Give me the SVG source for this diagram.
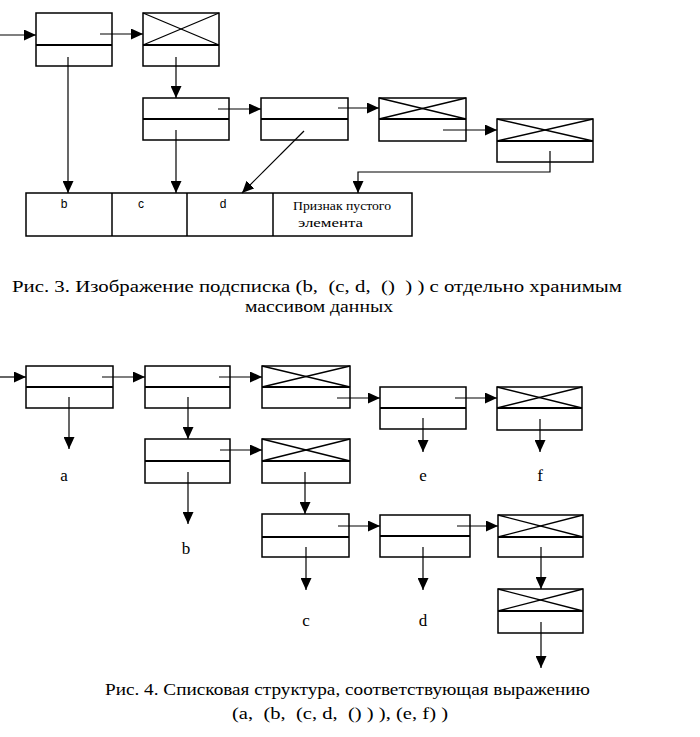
<svg xmlns="http://www.w3.org/2000/svg" width="700" height="737" viewBox="0 0 700 737">
<style>
.box{fill:none;stroke:#000;stroke-width:1.5}
.div{stroke:#000;stroke-width:2}
.x{stroke:#000;stroke-width:1.3}
.ca{fill:none;stroke:#000;stroke-width:1.2;marker-end:url(#ah)}
.cap{font-family:"Liberation Serif",serif;font-size:17px;fill:#000}
.lbl{font-family:"Liberation Serif",serif;font-size:17px;fill:#000;text-anchor:middle}
.sm{font-family:"Liberation Sans",sans-serif;font-size:12px;fill:#000;text-anchor:middle}
.smr{font-family:"Liberation Serif",serif;font-size:12px;fill:#000}
</style>
<defs>
<marker id="ah" markerUnits="userSpaceOnUse" markerWidth="13" markerHeight="11" refX="12" refY="5.5" orient="auto">
<path d="M0,0 L12,5.5 L0,11 Z" fill="#000"/>
</marker>
</defs>

<!-- Figure 3 nodes -->
<g id="n3a"><rect class="box" x="36" y="13" width="76" height="53"/><line class="div" x1="36" y1="45" x2="112" y2="45"/></g>
<g id="n3x1"><rect class="box" x="143" y="13" width="76" height="53"/><line class="div" x1="143" y1="45" x2="219" y2="45"/><line class="x" x1="143" y1="13" x2="219" y2="45"/><line class="x" x1="143" y1="45" x2="219" y2="13"/></g>
<g id="n3b1"><rect class="box" x="143" y="98" width="86" height="42"/><line class="div" x1="143" y1="119" x2="229" y2="119"/></g>
<g id="n3b2"><rect class="box" x="261" y="98" width="87" height="42"/><line class="div" x1="261" y1="119" x2="348" y2="119"/></g>
<g id="n3x2"><rect class="box" x="379" y="98" width="87" height="43"/><line class="div" x1="379" y1="119" x2="466" y2="119"/><line class="x" x1="379" y1="98" x2="466" y2="119"/><line class="x" x1="379" y1="119" x2="466" y2="98"/></g>
<g id="n3x3"><rect class="box" x="497" y="119" width="96" height="43"/><line class="div" x1="497" y1="141" x2="593" y2="141"/><line class="x" x1="497" y1="119" x2="593" y2="141"/><line class="x" x1="497" y1="141" x2="593" y2="119"/></g>
<g id="n3arr">
<rect class="box" x="26" y="193" width="386" height="43"/>
<line class="box" x1="112" y1="193" x2="112" y2="236"/>
<line class="box" x1="187" y1="193" x2="187" y2="236"/>
<line class="box" x1="273" y1="193" x2="273" y2="236"/>
<text class="sm" x="64" y="208">b</text>
<text class="sm" x="141" y="208">c</text>
<text class="sm" x="223" y="208">d</text>
<text class="smr" x="293" y="210" textLength="98" lengthAdjust="spacingAndGlyphs">Признак пустого</text>
<text class="smr" x="298" y="227" textLength="65" lengthAdjust="spacingAndGlyphs">элемента</text>
</g>

<!-- Figure 3 connectors -->
<g id="conn3">
<line class="ca" x1="0" y1="35" x2="36" y2="35"/>
<line class="ca" x1="100" y1="34" x2="143" y2="34"/>
<line class="ca" x1="68" y1="57" x2="68" y2="193"/>
<line class="ca" x1="176" y1="57" x2="176" y2="98"/>
<line class="ca" x1="176" y1="130" x2="176" y2="193"/>
<line class="ca" x1="218" y1="109" x2="261" y2="109"/>
<line class="ca" x1="304" y1="131" x2="242" y2="193"/>
<line class="ca" x1="338" y1="108" x2="379" y2="108"/>
<line class="ca" x1="443" y1="130" x2="497" y2="130"/>
<polyline class="ca" points="550,151 550,172 358,172 358,193"/>
</g>

<text class="cap" x="12" y="292" xml:space="preserve" textLength="610" lengthAdjust="spacingAndGlyphs">Рис. 3. Изображение подсписка (b,  (c, d,  ()  ) ) с отдельно хранимым</text>
<text class="cap" x="245" y="312" textLength="148" lengthAdjust="spacingAndGlyphs">массивом данных</text>

<!-- Figure 4 nodes -->
<g id="n4a"><rect class="box" x="26" y="366" width="87" height="42"/><line class="div" x1="26" y1="387" x2="113" y2="387"/></g>
<g id="n4b"><rect class="box" x="145" y="366" width="85" height="42"/><line class="div" x1="145" y1="387" x2="230" y2="387"/></g>
<g id="n4x1"><rect class="box" x="262" y="366" width="88" height="42"/><line class="div" x1="262" y1="387" x2="350" y2="387"/><line class="x" x1="262" y1="366" x2="350" y2="387"/><line class="x" x1="262" y1="387" x2="350" y2="366"/></g>
<g id="n4e"><rect class="box" x="380" y="387" width="86" height="42"/><line class="div" x1="380" y1="408" x2="466" y2="408"/></g>
<g id="n4f"><rect class="box" x="497" y="387" width="85" height="43"/><line class="div" x1="497" y1="408" x2="582" y2="408"/><line class="x" x1="497" y1="387" x2="582" y2="408"/><line class="x" x1="497" y1="408" x2="582" y2="387"/></g>
<g id="n4c"><rect class="box" x="145" y="439" width="85" height="44"/><line class="div" x1="145" y1="461" x2="230" y2="461"/></g>
<g id="n4x2"><rect class="box" x="262" y="439" width="88" height="44"/><line class="div" x1="262" y1="461" x2="350" y2="461"/><line class="x" x1="262" y1="439" x2="350" y2="461"/><line class="x" x1="262" y1="461" x2="350" y2="439"/></g>
<g id="n4d1"><rect class="box" x="262" y="514" width="87" height="43"/><line class="div" x1="262" y1="537" x2="349" y2="537"/></g>
<g id="n4d2"><rect class="box" x="380" y="515" width="90" height="42"/><line class="div" x1="380" y1="536" x2="470" y2="536"/></g>
<g id="n4x3"><rect class="box" x="498" y="515" width="85" height="42"/><line class="div" x1="498" y1="537" x2="583" y2="537"/><line class="x" x1="498" y1="515" x2="583" y2="537"/><line class="x" x1="498" y1="537" x2="583" y2="515"/></g>
<g id="n4x4"><rect class="box" x="498" y="589" width="85" height="44"/><line class="div" x1="498" y1="611" x2="583" y2="611"/><line class="x" x1="498" y1="589" x2="583" y2="611"/><line class="x" x1="498" y1="611" x2="583" y2="589"/></g>

<g id="labels4">
<text class="lbl" x="64" y="481">a</text>
<text class="lbl" x="186" y="554">b</text>
<text class="lbl" x="423" y="481">e</text>
<text class="lbl" x="540" y="481">f</text>
<text class="lbl" x="306" y="626">c</text>
<text class="lbl" x="423" y="626">d</text>
</g>

<!-- Figure 4 connectors -->
<g id="conn4">
<line class="ca" x1="0" y1="377" x2="26" y2="377"/>
<line class="ca" x1="102" y1="377" x2="145" y2="377"/>
<line class="ca" x1="219" y1="377" x2="262" y2="377"/>
<line class="ca" x1="69" y1="397" x2="69" y2="449"/>
<line class="ca" x1="188" y1="397" x2="188" y2="439"/>
<line class="ca" x1="220" y1="450" x2="262" y2="450"/>
<line class="ca" x1="188" y1="472" x2="188" y2="524"/>
<line class="ca" x1="305" y1="472" x2="305" y2="514"/>
<line class="ca" x1="337" y1="398" x2="380" y2="398"/>
<line class="ca" x1="455" y1="398" x2="497" y2="398"/>
<line class="ca" x1="423" y1="418" x2="423" y2="452"/>
<line class="ca" x1="540" y1="419" x2="540" y2="452"/>
<line class="ca" x1="338" y1="526" x2="380" y2="526"/>
<line class="ca" x1="457" y1="526" x2="498" y2="526"/>
<line class="ca" x1="306" y1="547" x2="306" y2="590"/>
<line class="ca" x1="423" y1="547" x2="423" y2="590"/>
<line class="ca" x1="541" y1="547" x2="541" y2="589"/>
<line class="ca" x1="541" y1="622" x2="541" y2="668"/>
</g>

<text class="cap" x="105" y="695" textLength="485" lengthAdjust="spacingAndGlyphs">Рис. 4. Списковая структура, соответствующая выражению</text>
<text class="cap" x="232" y="719" xml:space="preserve" textLength="216" lengthAdjust="spacingAndGlyphs">(a,  (b,  (c, d,  () ) ), (e, f) )</text>
</svg>
